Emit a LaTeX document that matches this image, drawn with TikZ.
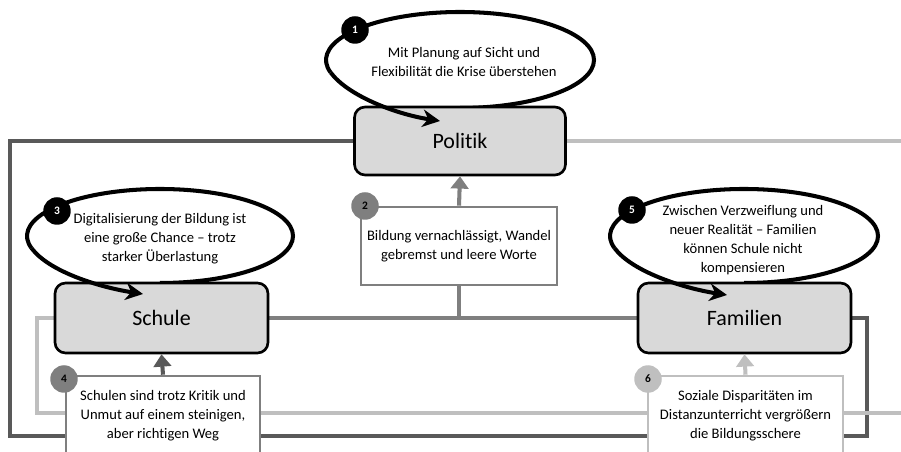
\documentclass[tikz,border=0pt]{standalone}
\usepackage{fontspec}
\setmainfont{Carlito}[Ligatures=NoCommon]
\usetikzlibrary{arrows.meta,backgrounds}

\definecolor{darkline}{HTML}{595959}
\definecolor{midline}{HTML}{7F7F7F}
\definecolor{lightline}{HTML}{BFBFBF}
\definecolor{actorfill}{HTML}{D9D9D9}

\begin{document}
\begin{tikzpicture}[x=0.02cm, y=0.02cm]

\tikzset{actor/.style = {draw, line width=1.5pt, fill=actorfill, rounded corners=6pt, minimum width=4.26cm, minimum height=1.4cm, font=\fontsize{12.5}{15}\selectfont}}
\tikzset{quote/.style = {draw, line width=1.5pt, fill=white, align=center, minimum height=1.6cm, font=\fontsize{8.3}{10.8}\selectfont}}
\tikzset{bubble/.style = {align=center, font=\fontsize{8.3}{10.8}\selectfont}}
\tikzset{badge/.style = {shape=circle, minimum size=0.55cm, inner sep=0pt, font=\fontsize{6.5}{7}\selectfont\bfseries}}
\tikzset{link/.style = {line width=2.3pt}}
\tikzset{lift/.style = {line width=2.3pt, -{Triangle[length=7pt,width=10pt]}}}
\tikzset{swirl/.style = {line width=2.3pt, -{Stealth[length=10pt,width=10pt]}}}

\useasboundingbox (0,0) rectangle (901,452);
\clip (0,0) rectangle (901,452);

% actors
\node[actor, minimum width=4.22cm, minimum height=1.36cm] (politik) at (460,311) {Politik};
\node[actor] (schule) at (161.5,134) {Schule};
\node[actor] (familien) at (744.5,134) {Familien};

% statements
\node[quote, draw=midline, minimum width=3.92cm, minimum height=1.56cm] (q2) at (459,206) {Bildung vernachlässigt, Wandel\\gebremst und leere Worte};
\node[quote, draw=midline, minimum width=3.88cm] (q4) at (163,36) {Schulen sind trotz Kritik und\\Unmut auf einem steinigen,\\aber richtigen Weg};
\node[quote, draw=lightline, minimum width=3.9cm] (q6) at (745.5,36) {Soziale Disparitäten im\\Distanzunterricht vergrößern\\die Bildungsschere};

% bubbles
\coordinate (c1) at (460,392);
\coordinate (c3) at (160,216);
\coordinate (c5) at (744,216);
\node[bubble] (e1) at (464,390) {Mit Planung auf Sicht und\\Flexibilität die Krise überstehen};
\node[bubble] (e3) at (160,213) {Digitalisierung der Bildung ist\\eine große Chance -- trotz\\starker Überlastung};
\node[bubble] (e5) at (743,212) {Zwischen Verzweiflung und\\neuer Realität -- Familien\\können Schule nicht\\kompensieren};

% free ends
\coordinate (r1) at (901,311);
\coordinate (r2) at (901,39);
\coordinate (t1) at (440,331);
\coordinate (t3) at (143,158);
\coordinate (t5) at (727,157);

%edges
\begin{scope}[on background layer]
       \draw[link, darkline] (politik.west) -- (10,311) -- (10,16) -- (867,16) -- (867,134) -- (familien.east);
       \draw[link, midline] (schule.east) -- (familien.west);
       \draw[link, midline] (q2.south) -- (q2.south |- schule.east);
       \draw[link, lightline] (politik.east) -- (r1);
       \draw[link, lightline] (schule.west) -- (37,134) -- (37,39) -- (r2);
       \draw[link] (c1) ++(-90:134 and 48) arc[start angle=-90, end angle=195, x radius=134, y radius=48];
       \draw[link] (c3) ++(-90:133 and 47) arc[start angle=-90, end angle=195, x radius=133, y radius=47];
       \draw[link] (c5) ++(-90:134 and 47) arc[start angle=-90, end angle=195, x radius=134, y radius=47];
\end{scope}

\draw[swirl] (c1) ++(195:134 and 48) .. controls +(17,-23) and +(-45,7) .. (t1);
\draw[swirl] (c3) ++(195:133 and 47) .. controls +(17,-23) and +(-45,7) .. (t3);
\draw[swirl] (c5) ++(195:134 and 47) .. controls +(17,-23) and +(-45,7) .. (t5);

\draw[lift, midline] (q2.north) -- (politik.south);
\draw[lift, darkline] (q4.north) -- (schule.south);
\draw[lift, lightline] (q6.north) -- (familien.south);

% badges
\node[badge, fill=black, text=white] (b1) at (355,422) {1};
\node[badge, fill=midline, text=black] (b2) at (365,246) {2};
\node[badge, fill=black, text=white] (b3) at (57,241) {3};
\node[badge, fill=midline, text=black] (b4) at (64,73) {4};
\node[badge, fill=black, text=white] (b5) at (632,242) {5};
\node[badge, fill=lightline, text=black] (b6) at (648,73) {6};

\end{tikzpicture}
\end{document}
